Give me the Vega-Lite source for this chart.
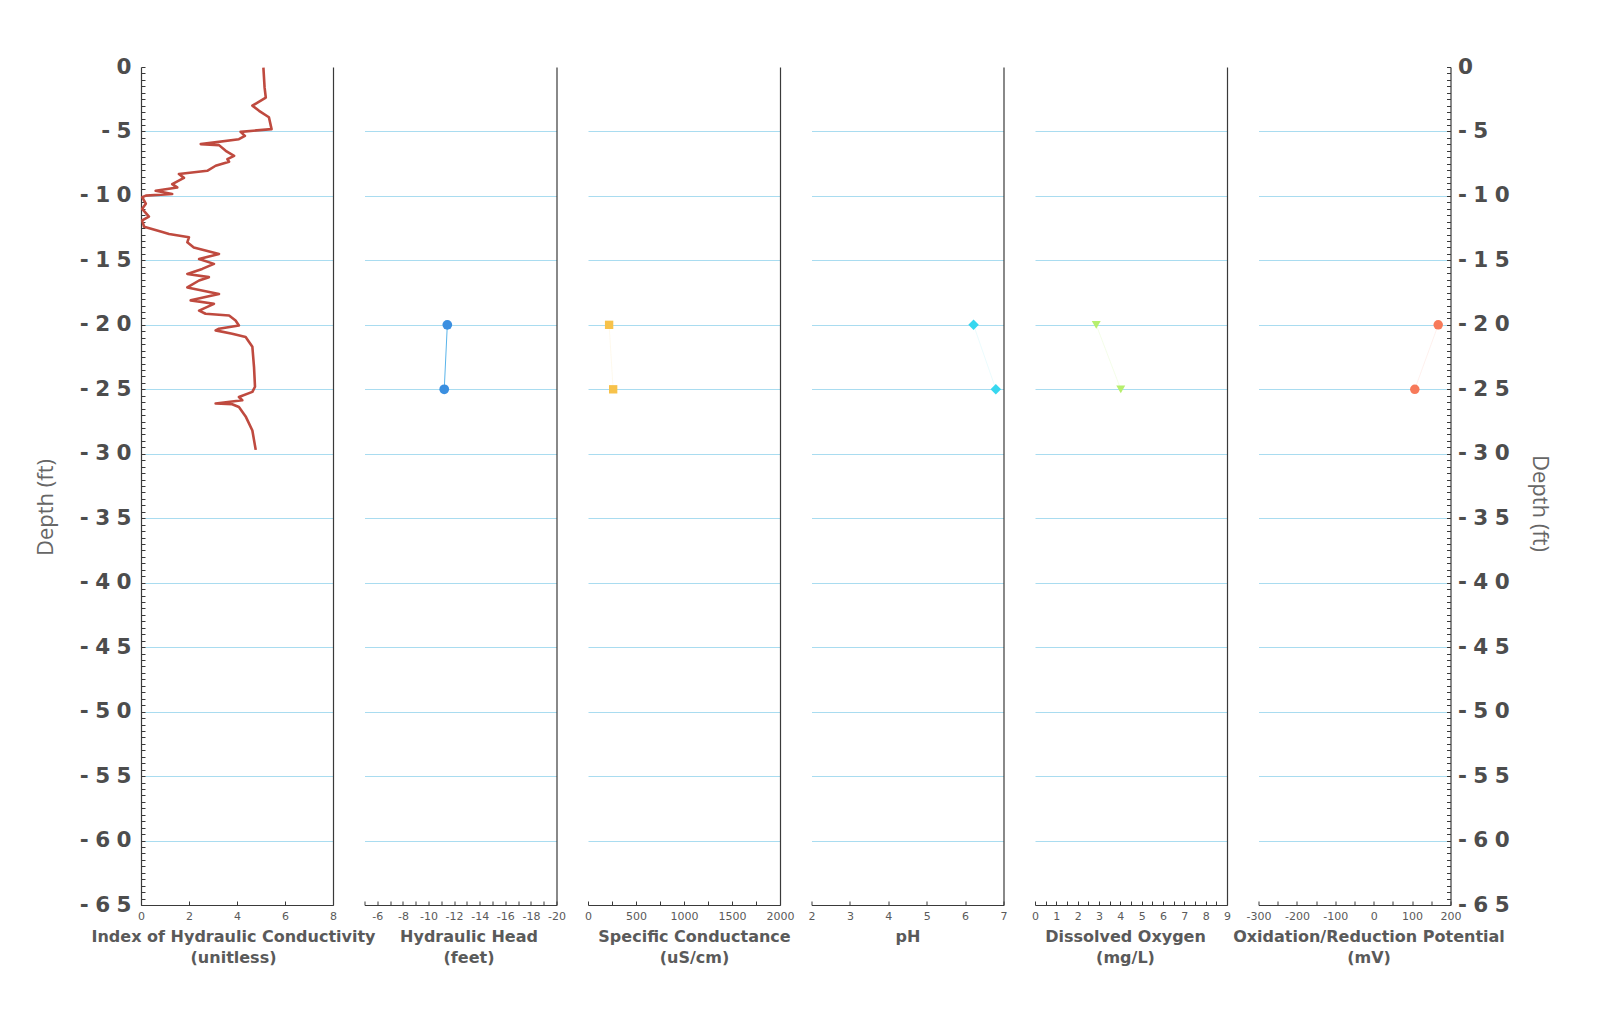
{
  "$schema": "https://vega.github.io/schema/vega-lite/v6.json",
  "background": "white",
  "padding": {"left": 34, "top": 56, "right": 5, "bottom": 5},
  "bounds": "flush",
  "spacing": 31.5,
  "config": {
    "view": {"stroke": null},
    "axis": {
      "domainColor": "#3a3a3a", "domainWidth": 1.2,
      "tickColor": "#3a3a3a", "tickWidth": 1,
      "labelFont": "DejaVu Sans", "labelColor": "#5a5a5a",
      "titleFont": "DejaVu Sans", "titleColor": "#5a5a5a",
      "gridColor": "#a9dcf0", "gridWidth": 1,
      "labelOverlap": false, "labelFlush": false, "labelBound": false
    },
    "axisX": {
      "labelFontSize": 11, "tickSize": -4, "labelPadding": 9, "grid": false,
      "titleFontSize": 16, "titleFontWeight": "bold", "titlePadding": 7, "titleLineHeight": 21
    }
  },
  "datasets": {
    "ihc": [
      {"depth": -0.05, "k": 5.1}, {"depth": -1.6, "k": 5.15}, {"depth": -2.37, "k": 5.2},
      {"depth": -3.0, "k": 4.64}, {"depth": -3.4, "k": 4.92}, {"depth": -3.9, "k": 5.33},
      {"depth": -4.82, "k": 5.44}, {"depth": -5.03, "k": 4.15}, {"depth": -5.34, "k": 4.33},
      {"depth": -5.6, "k": 4.08}, {"depth": -5.98, "k": 2.49}, {"depth": -6.06, "k": 3.25},
      {"depth": -6.5, "k": 3.53}, {"depth": -6.89, "k": 3.88}, {"depth": -7.15, "k": 3.6},
      {"depth": -7.35, "k": 3.67}, {"depth": -7.66, "k": 3.11}, {"depth": -8.05, "k": 2.76},
      {"depth": -8.3, "k": 1.58}, {"depth": -8.6, "k": 1.79}, {"depth": -9.08, "k": 1.3},
      {"depth": -9.34, "k": 1.51}, {"depth": -9.6, "k": 0.61}, {"depth": -9.85, "k": 1.3},
      {"depth": -9.98, "k": 0.2}, {"depth": -10.1, "k": 0.05}, {"depth": -10.6, "k": 0.2},
      {"depth": -11.0, "k": 0.05}, {"depth": -11.6, "k": 0.33}, {"depth": -11.9, "k": 0.05},
      {"depth": -12.4, "k": 0.13}, {"depth": -12.8, "k": 0.89}, {"depth": -12.95, "k": 1.17},
      {"depth": -13.2, "k": 2.0}, {"depth": -13.6, "k": 1.93}, {"depth": -14.0, "k": 2.2},
      {"depth": -14.5, "k": 3.25}, {"depth": -14.9, "k": 2.42}, {"depth": -15.27, "k": 3.04},
      {"depth": -15.66, "k": 2.55}, {"depth": -16.05, "k": 1.93}, {"depth": -16.3, "k": 2.83},
      {"depth": -16.56, "k": 2.42}, {"depth": -17.1, "k": 1.93}, {"depth": -17.6, "k": 3.25},
      {"depth": -18.1, "k": 2.07}, {"depth": -18.37, "k": 3.04}, {"depth": -18.9, "k": 2.42},
      {"depth": -19.14, "k": 2.69}, {"depth": -19.27, "k": 3.67}, {"depth": -19.66, "k": 3.94},
      {"depth": -20.05, "k": 4.08}, {"depth": -20.3, "k": 3.25}, {"depth": -20.43, "k": 3.11},
      {"depth": -20.69, "k": 3.8}, {"depth": -20.95, "k": 4.36}, {"depth": -21.7, "k": 4.64},
      {"depth": -23.3, "k": 4.71}, {"depth": -24.8, "k": 4.75}, {"depth": -25.2, "k": 4.64},
      {"depth": -25.6, "k": 4.08}, {"depth": -25.85, "k": 4.22}, {"depth": -26.1, "k": 3.11},
      {"depth": -26.16, "k": 3.8}, {"depth": -26.37, "k": 4.08}, {"depth": -27.1, "k": 4.36},
      {"depth": -28.2, "k": 4.64}, {"depth": -29.7, "k": 4.78}
    ],
    "wq": [
      {"depth": -20, "head": -11.47, "sc": 220, "ph": 6.22, "do": 2.87, "orp": 168},
      {"depth": -25, "head": -11.23, "sc": 262, "ph": 6.8, "do": 4.02, "orp": 107}
    ]
  },
  "hconcat": [
    {
      "width": 192, "height": 838,
      "data": {"name": "ihc"},
      "layer": [
        {
          "mark": {"type": "line", "color": "#bf4a3f", "strokeWidth": 2.6, "strokeJoin": "round"},
          "encoding": {
            "x": {"field": "k", "type": "quantitative", "scale": {"domain": [0, 8], "nice": false, "zero": false},
                  "axis": {"values": [0, 2, 4, 6, 8], "labelExpr": "toString(datum.value)", "title": ["Index of Hydraulic Conductivity", "(unitless)"], "titleX": 92}},
            "y": {"field": "depth", "type": "quantitative", "scale": {"domain": [-65, 0], "nice": false, "zero": false},
                  "axis": {"orient": "left", "tickCount": 130, "tickSize": -4,
                           "labelExpr": "datum.value % 5 == 0 ? replace(toString(datum.value), regexp('(.)(?=.)', 'g'), '$1\u2009\u200a') : ''",
                           "labelFontSize": 21.5, "labelFontWeight": "bold", "labelColor": "#4d4d4d", "labelPadding": 14,
                           "grid": true, "gridOpacity": {"condition": {"test": "datum.value % 5 == 0 && datum.value < 0 && datum.value > -65", "value": 1}, "value": 0},
                           "title": "Depth (ft)", "titleFont": "Open Sans", "titleFontSize": 22, "titleFontWeight": "normal", "titleColor": "#666666", "titlePadding": 22, "titleY": 440}},
            "order": {"field": "depth", "sort": "descending"}
          }
        },
        {
          "mark": {"type": "point", "opacity": 0},
          "encoding": {
            "y": {"field": "depth", "type": "quantitative", "scale": {"domain": [-65, 0], "nice": false, "zero": false},
                  "axis": {"orient": "right", "labels": false, "ticks": false, "grid": false, "title": null, "domain": true}}
          }
        }
      ],
      "resolve": {"axis": {"y": "independent"}}
    },
    {
      "width": 192, "height": 838,
      "data": {"name": "wq"},
      "encoding": {
        "x": {"field": "head", "type": "quantitative", "scale": {"domain": [-20, -5], "reverse": true, "nice": false, "zero": false},
              "axis": {"values": [-5, -6, -7, -8, -9, -10, -11, -12, -13, -14, -15, -16, -17, -18, -19, -20], "labelExpr": "datum.value % 2 == 0 ? toString(datum.value) : ''", "title": ["Hydraulic Head", "(feet)"], "titleX": 104}},
        "y": {"field": "depth", "type": "quantitative", "scale": {"domain": [-65, 0], "nice": false, "zero": false},
              "axis": {"orient": "right", "values": [-5, -10, -15, -20, -25, -30, -35, -40, -45, -50, -55, -60], "labels": false, "ticks": false, "grid": true, "title": null, "domain": true}}
      },
      "layer": [
        {"mark": {"type": "line", "color": "#5ab4ea", "strokeWidth": 1}},
        {"mark": {"type": "point", "shape": "circle", "filled": true, "size": 95, "color": "#3b8fe0", "opacity": 1}}
      ]
    },
    {
      "width": 192, "height": 838,
      "data": {"name": "wq"},
      "encoding": {
        "x": {"field": "sc", "type": "quantitative", "scale": {"domain": [0, 2000], "nice": false, "zero": false},
              "axis": {"values": [0, 250, 500, 750, 1000, 1250, 1500, 1750, 2000], "labelExpr": "datum.value % 500 == 0 ? toString(datum.value) : ''", "title": ["Specific Conductance", "(uS/cm)"], "titleX": 106}},
        "y": {"field": "depth", "type": "quantitative", "scale": {"domain": [-65, 0], "nice": false, "zero": false},
              "axis": {"orient": "right", "values": [-5, -10, -15, -20, -25, -30, -35, -40, -45, -50, -55, -60], "labels": false, "ticks": false, "grid": true, "title": null, "domain": true}}
      },
      "layer": [
        {"mark": {"type": "line", "color": "#f7c24a", "strokeWidth": 1, "opacity": 0.1}},
        {"mark": {"type": "point", "shape": "square", "filled": true, "size": 70, "color": "#f7c24a", "opacity": 1}}
      ]
    },
    {
      "width": 192, "height": 838,
      "data": {"name": "wq"},
      "encoding": {
        "x": {"field": "ph", "type": "quantitative", "scale": {"domain": [2, 7], "nice": false, "zero": false},
              "axis": {"values": [2, 3, 4, 5, 6, 7], "labelExpr": "toString(datum.value)", "title": "pH"}},
        "y": {"field": "depth", "type": "quantitative", "scale": {"domain": [-65, 0], "nice": false, "zero": false},
              "axis": {"orient": "right", "values": [-5, -10, -15, -20, -25, -30, -35, -40, -45, -50, -55, -60], "labels": false, "ticks": false, "grid": true, "title": null, "domain": true}}
      },
      "layer": [
        {"mark": {"type": "line", "color": "#37d7ef", "strokeWidth": 1, "opacity": 0.1}},
        {"mark": {"type": "point", "shape": "diamond", "filled": true, "size": 110, "color": "#37d7ef", "opacity": 1}}
      ]
    },
    {
      "width": 192, "height": 838,
      "data": {"name": "wq"},
      "encoding": {
        "x": {"field": "do", "type": "quantitative", "scale": {"domain": [0, 9], "nice": false, "zero": false},
              "axis": {"values": [0, 0.5, 1, 1.5, 2, 2.5, 3, 3.5, 4, 4.5, 5, 5.5, 6, 6.5, 7, 7.5, 8, 8.5, 9], "labelExpr": "datum.value % 1 == 0 ? toString(datum.value) : ''", "title": ["Dissolved Oxygen", "(mg/L)"], "titleX": 90}},
        "y": {"field": "depth", "type": "quantitative", "scale": {"domain": [-65, 0], "nice": false, "zero": false},
              "axis": {"orient": "right", "values": [-5, -10, -15, -20, -25, -30, -35, -40, -45, -50, -55, -60], "labels": false, "ticks": false, "grid": true, "title": null, "domain": true}}
      },
      "layer": [
        {"mark": {"type": "line", "color": "#b6ef6e", "strokeWidth": 1, "opacity": 0.15}},
        {"mark": {"type": "point", "shape": "triangle-down", "filled": true, "size": 80, "color": "#b6ef6e", "opacity": 1}}
      ]
    },
    {
      "width": 192, "height": 838,
      "data": {"name": "wq"},
      "encoding": {
        "x": {"field": "orp", "type": "quantitative", "scale": {"domain": [-300, 200], "nice": false, "zero": false},
              "axis": {"values": [-300, -250, -200, -150, -100, -50, 0, 50, 100, 150, 200], "labelExpr": "datum.value % 100 == 0 ? toString(datum.value) : ''", "title": ["Oxidation/Reduction Potential", "(mV)"], "titleX": 110}},
        "y": {"field": "depth", "type": "quantitative", "scale": {"domain": [-65, 0], "nice": false, "zero": false},
              "axis": {"orient": "right", "tickCount": 130, "tickSize": -4,
                       "labelExpr": "datum.value % 5 == 0 ? replace(toString(datum.value), regexp('(.)(?=.)', 'g'), '$1\u2009\u200a') : ''",
                       "labelFontSize": 21.5, "labelFontWeight": "bold", "labelColor": "#4d4d4d", "labelPadding": 11,
                       "grid": true, "gridOpacity": {"condition": {"test": "datum.value % 5 == 0 && datum.value < 0 && datum.value > -65", "value": 1}, "value": 0},
                       "title": "Depth (ft)", "titleFont": "Open Sans", "titleFontSize": 22, "titleFontWeight": "normal", "titleColor": "#666666", "titlePadding": 18, "titleY": 436}}
      },
      "layer": [
        {"mark": {"type": "line", "color": "#f77a5a", "strokeWidth": 1, "opacity": 0.1}},
        {"mark": {"type": "point", "shape": "circle", "filled": true, "size": 90, "color": "#f77a5a", "opacity": 1}}
      ]
    }
  ]
}
